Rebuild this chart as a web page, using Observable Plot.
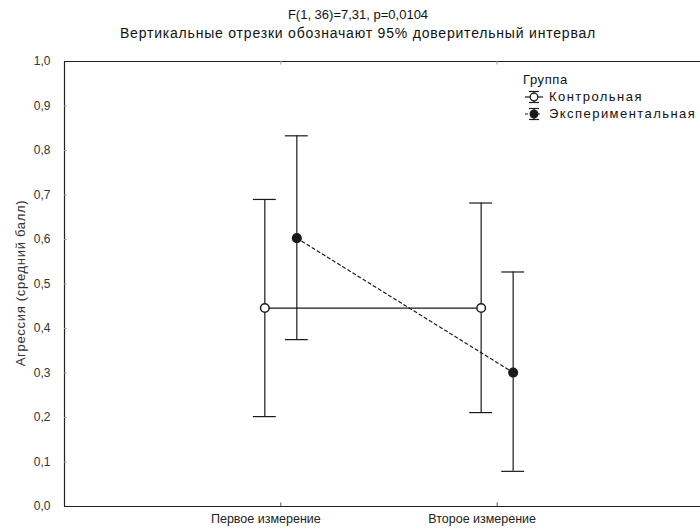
<!DOCTYPE html>
<html>
<head>
<meta charset="utf-8">
<script src="https://cdn.jsdelivr.net/npm/d3@7"></script>
<script src="https://cdn.jsdelivr.net/npm/@observablehq/plot@0.6"></script>
<style>
  html, body { margin: 0; padding: 0; background: #fff; }
  #wrap { position: relative; width: 700px; height: 530px; overflow: hidden; font-family: "Liberation Sans", Arial, sans-serif; color: #111; }
  #title { position: absolute; left: 8px; width: 700px; top: 7px; text-align: center; font-size: 13px; line-height: 16px; }
  #subtitle { position: absolute; left: 8px; width: 700px; top: 25px; text-align: center; font-size: 14px; letter-spacing: 0.8px; line-height: 16px; }
  #chart { position: absolute; left: 0; top: 44px; }
  #ylabel { position: absolute; left: 20px; top: 283px; transform: translate(-50%, -50%) rotate(-90deg); font-size: 13px; letter-spacing: 0.7px; color: #333; white-space: nowrap; }
  #legend { position: absolute; left: 523px; top: 71px; font-size: 13px; line-height: 17px; white-space: nowrap; letter-spacing: 1.45px; }
  #legend .head { letter-spacing: 0.6px; }
  #legend .row { display: flex; align-items: center; }
  #legend svg { margin-right: 4px; }
</style>
</head>
<body>
<div id="wrap">
  <div id="title">F(1, 36)=7,31, p=0,0104</div>
  <div id="subtitle">Вертикальные отрезки обозначают 95% доверительный интервал</div>
  <div id="chart"></div>
  <div id="ylabel"></div>
  <div id="legend"></div>
</div>
<script>
// ---- data ----
const measurements = ["Первое измерение", "Второе измерение"];
const groups = ["Контрольная", "Экспериментальная"];
const legendTitle = "Группа";
const yLabel = "Агрессия (средний балл)";
const controlMean = [0.446, 0.446];
const controlLow  = [0.202, 0.211];
const controlHigh = [0.690, 0.682];
const expMean = [0.603, 0.301];
const expLow  = [0.375, 0.079];
const expHigh = [0.833, 0.527];
const yTicks = [0, 0.1, 0.2, 0.3, 0.4, 0.5, 0.6, 0.7, 0.8, 0.9, 1.0];

function rows(means, lows, highs) {
  return measurements.map((m, i) => ({pos: i + 1, label: m, mean: means[i], lo: lows[i], hi: highs[i]}));
}
const control = rows(controlMean, controlLow, controlHigh);
const experimental = rows(expMean, expLow, expHigh);

const ink = "#1a1a1a";
const capHalf = 0.053;

function groupMarks(data, dx, filled, dashed) {
  return [
    Plot.line(data, {x: "pos", y: "mean", dx, stroke: ink, strokeWidth: 1.2, strokeDasharray: dashed ? "3,3" : null}),
    Plot.ruleX(data, {x: "pos", y1: "lo", y2: "hi", dx, stroke: ink, strokeWidth: 1.2}),
    Plot.ruleY(data, {y: "hi", x1: d => d.pos - capHalf, x2: d => d.pos + capHalf, dx, stroke: ink, strokeWidth: 1.2}),
    Plot.ruleY(data, {y: "lo", x1: d => d.pos - capHalf, x2: d => d.pos + capHalf, dx, stroke: ink, strokeWidth: 1.2}),
    Plot.dot(data, {x: "pos", y: "mean", dx, r: 4.3, fill: filled ? ink : "white", stroke: ink, strokeWidth: 1.5})
  ];
}

const fmt = d => d3.format(".1f")(d).replace(".", ",");

const chart = Plot.plot({
  width: 700,
  height: 486,
  marginLeft: 64,
  marginRight: 0,
  marginTop: 17,
  marginBottom: 24,
  style: {fontFamily: "Liberation Sans, Arial, sans-serif", fontSize: "12px", color: "#222", background: "white"},
  x: {domain: [0, 2.94], axis: null},
  y: {domain: [0, 1], axis: null},
  marks: [
    // frame: left, top, bottom
    Plot.ruleX([0], {stroke: "#222", strokeWidth: 1.2}),
    Plot.ruleY([0, 1], {stroke: "#222", strokeWidth: 1.2}),
    // inner tick marks
    Plot.ruleY(yTicks.slice(1, -1), {x1: 0, x2: 0.012, stroke: "#999"}),
    Plot.ruleX([1, 2], {y1: 0, y2: 0.008, stroke: "#555"}),
    Plot.ruleX([1, 2], {y1: 1, y2: 0.992, stroke: "#999"}),
    Plot.axisY({ticks: yTicks, tickFormat: fmt, tickSize: 0, tickPadding: 14, fill: "#333", fontSize: 12, label: null}),
    Plot.axisX({ticks: [1, 2], tickFormat: d => measurements[d - 1], tickSize: 0, tickPadding: 8, dx: -15, fill: "#222", fontSize: 12.5, label: null}),
    ...groupMarks(control, -16, false, false),
    ...groupMarks(experimental, 16, true, true)
  ]
});
document.getElementById("chart").appendChild(chart);
document.getElementById("ylabel").textContent = yLabel;

// legend
const legend = document.getElementById("legend");
const head = document.createElement("div");
head.className = "head";
head.textContent = legendTitle;
legend.appendChild(head);
groups.forEach((g, i) => {
  const row = document.createElement("div");
  row.className = "row";
  const ns = "http://www.w3.org/2000/svg";
  const s = document.createElementNS(ns, "svg");
  s.setAttribute("width", 22); s.setAttribute("height", 14);
  const el = (tag, attrs) => { const e = document.createElementNS(ns, tag); for (const k in attrs) if (attrs[k] != null) e.setAttribute(k, attrs[k]); s.appendChild(e); };
  el("line", {x1: 2, x2: 20, y1: 7, y2: 7, stroke: ink, "stroke-width": 1.2, "stroke-dasharray": i ? "3,3" : null});
  el("line", {x1: 11, x2: 11, y1: 1, y2: 13, stroke: ink, "stroke-width": 1.2});
  el("line", {x1: 6, x2: 16, y1: 1.5, y2: 1.5, stroke: ink, "stroke-width": 1.2});
  el("line", {x1: 6, x2: 16, y1: 12.5, y2: 12.5, stroke: ink, "stroke-width": 1.2});
  el("circle", {cx: 11, cy: 7, r: 3.8, fill: i ? ink : "white", stroke: ink, "stroke-width": 1.3});
  row.appendChild(s);
  const t = document.createElement("span");
  t.textContent = g;
  row.appendChild(t);
  legend.appendChild(row);
});
</script>
</body>
</html>
